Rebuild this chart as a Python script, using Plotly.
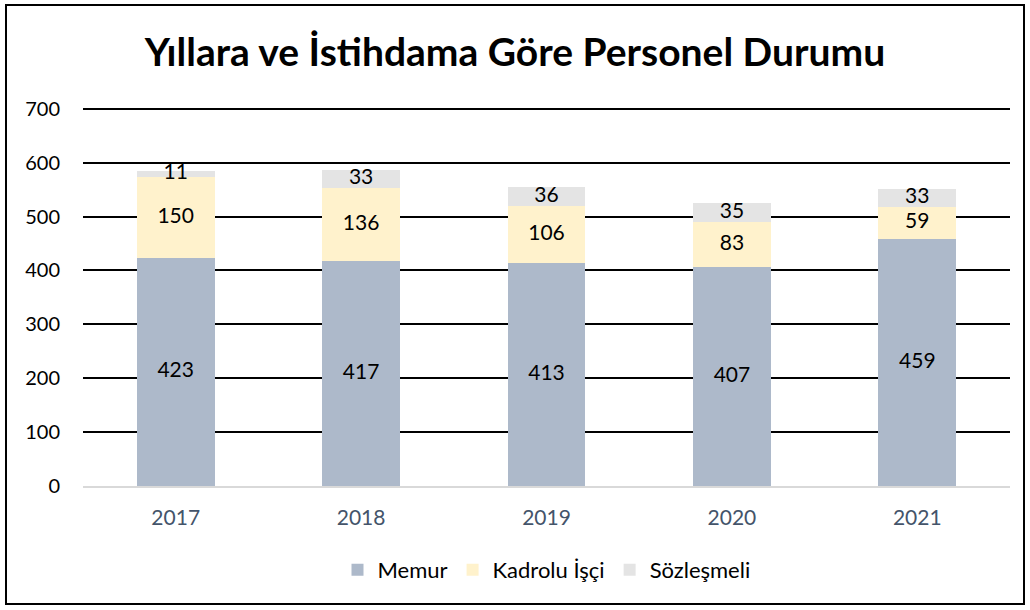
import plotly.graph_objects as go

years = ["2017", "2018", "2019", "2020", "2021"]
memur = [423, 417, 413, 407, 459]
kadrolu = [150, 136, 106, 83, 59]
sozlesmeli = [11, 33, 36, 35, 33]
yticks = [0, 100, 200, 300, 400, 500, 600, 700]

series = [
    ("Memur", memur, "#ADB9CA"),
    ("Kadrolu İşçi", kadrolu, "#FFF2CC"),
    ("Sözleşmeli", sozlesmeli, "#E4E4E4"),
]

FONT = "Lato"
fig = go.Figure()
base = [0] * len(years)
label_x, label_y, label_t = [], [], []
for name, vals, color in series:
    fig.add_trace(go.Bar(
        x=years, y=vals, name=name, marker=dict(color=color, line=dict(width=0)),
        hoverinfo="x+y+name",
    ))
    for i, v in enumerate(vals):
        label_x.append(years[i])
        label_y.append(base[i] + v / 2)
        label_t.append(str(v))
        base[i] += v

fig.add_trace(go.Scatter(
    x=label_x, y=label_y, text=label_t, mode="text",
    textfont=dict(family=FONT, size=21, color="#000000"),
    showlegend=False, hoverinfo="skip",
))

PH = 380  # plot height in px
fig.update_layout(
    width=1030, height=610,
    barmode="stack", bargap=0.58,
    paper_bgcolor="white", plot_bgcolor="white",
    margin=dict(l=83, r=20, t=106, b=124),
    title=dict(text="<b>Yıllara ve İstihdama Göre Personel Durumu</b>",
               x=0.5, xanchor="center", y=1 - 52 / 610, yanchor="middle",
               font=dict(family=FONT, size=39, color="#000000")),
    font=dict(family=FONT, color="#000000"),
    legend=dict(orientation="h", x=0.5, xanchor="center", y=-84 / PH, yanchor="middle",
                font=dict(family=FONT, size=22, color="#000000"),
                traceorder="normal", itemsizing="constant", itemwidth=30),
    xaxis=dict(type="category", showgrid=False, showline=True, linecolor="#D9D9D9",
               linewidth=2, ticks="", ticklabelstandoff=12,
               tickfont=dict(family=FONT, size=21, color="#44546A")),
    yaxis=dict(range=[0, 705], tickvals=yticks,
               showgrid=True, gridcolor="#000000",
               gridwidth=1.5, zeroline=False, showline=False, ticks="",
               ticklabelstandoff=22,
               tickfont=dict(family=FONT, size=20, color="#000000")),
    shapes=[dict(type="rect", xref="paper", yref="paper",
                 x0=-77 / 927, x1=1 + 14 / 927, y0=-118 / PH, y1=1 + 101 / PH,
                 line=dict(color="#000000", width=2), fillcolor="rgba(0,0,0,0)",
                 layer="below")],
)

fig.write_html("out.html", config={"displayModeBar": False},
               post_script="document.body.style.margin='0';")
